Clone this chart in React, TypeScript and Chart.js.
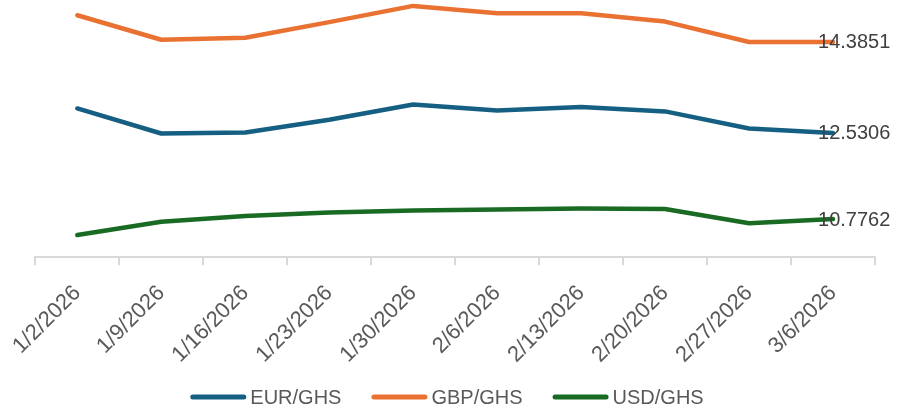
import React, { useEffect, useRef } from "react";
import { Chart, registerables } from "chart.js";

Chart.register(...registerables);

const categories = [
  "1/2/2026", "1/9/2026", "1/16/2026", "1/23/2026", "1/30/2026",
  "2/6/2026", "2/13/2026", "2/20/2026", "2/27/2026", "3/6/2026",
];
const eurGhs = [13.03, 12.52, 12.54, 12.80, 13.11, 12.99, 13.06, 12.97, 12.62, 12.5306];
const gbpGhs = [14.93, 14.43, 14.47, 14.79, 15.12, 14.97, 14.97, 14.80, 14.385, 14.3851];
const usdGhs = [10.45, 10.72, 10.84, 10.91, 10.95, 10.97, 10.99, 10.98, 10.69, 10.7762];
const seriesNames = ["EUR/GHS", "GBP/GHS", "USD/GHS"];
const seriesColors = ["#156082", "#E97132", "#196B24"];

const FONT = "'Liberation Sans', Arial, sans-serif";

const endLabels = {
  id: "endLabels",
  afterDatasetsDraw(chart: any) {
    const ctx = chart.ctx;
    ctx.save();
    ctx.font = `20px ${FONT}`;
    ctx.fillStyle = "#404040";
    ctx.textAlign = "left";
    ctx.textBaseline = "middle";
    chart.data.datasets.forEach((ds: any, i: number) => {
      const meta = chart.getDatasetMeta(i);
      const last = meta.data[meta.data.length - 1];
      if (!last) return;
      const v = ds.data[ds.data.length - 1];
      ctx.fillText(v.toFixed(4), last.x - 15, last.y + 1);
    });
    ctx.restore();
  },
};

const bottomLegend = {
  id: "bottomLegend",
  afterDraw(chart: any) {
    const ctx = chart.ctx;
    const swatch = 56;
    const gapText = 4;
    const gapItem = 30;
    const cy = 397;
    ctx.save();
    ctx.font = `20px ${FONT}`;
    const widths = chart.data.datasets.map((ds: any) => ctx.measureText(ds.label).width);
    const total = widths.reduce((a: number, w: number) => a + swatch + gapText + w, 0) + gapItem * (widths.length - 1);
    let x = (chart.width - total) / 2 - 3;
    chart.data.datasets.forEach((ds: any, i: number) => {
      ctx.strokeStyle = ds.borderColor;
      ctx.lineWidth = 5;
      ctx.lineCap = "round";
      ctx.beginPath();
      ctx.moveTo(x + 2.5, cy);
      ctx.lineTo(x + swatch - 2.5, cy);
      ctx.stroke();
      ctx.fillStyle = "#595959";
      ctx.textAlign = "left";
      ctx.textBaseline = "middle";
      ctx.fillText(ds.label, x + swatch + gapText, cy + 1);
      x += swatch + gapText + widths[i] + gapItem;
    });
    ctx.restore();
  },
};

export default function App() {
  const ref = useRef<HTMLCanvasElement>(null);
  useEffect(() => {
    if (!ref.current) return;
    const data = [eurGhs, gbpGhs, usdGhs];
    const chart = new Chart(ref.current, {
      type: "line",
      data: {
        labels: categories,
        datasets: data.map((d, i) => ({
          label: seriesNames[i],
          data: d,
          borderColor: seriesColors[i],
          backgroundColor: seriesColors[i],
          borderWidth: 4.5,
          borderCapStyle: "round" as const,
          borderJoinStyle: "round" as const,
          pointRadius: 0,
          tension: 0,
        })),
      },
      options: {
        responsive: false,
        animation: false,
        layout: { padding: { left: 35, right: 25, top: 1, bottom: 26 } },
        scales: {
          x: {
            offset: true,
            border: { display: true, color: "#d9d9d9", width: 2 },
            grid: {
              display: true,
              offset: true,
              drawOnChartArea: false,
              drawTicks: true,
              tickLength: 8,
              color: "#d9d9d9",
              lineWidth: 2,
            },
            ticks: {
              minRotation: 45,
              maxRotation: 45,
              autoSkip: false,
              color: "#595959",
              font: { family: FONT, size: 22 },
              padding: 15,
            },
          },
          y: {
            display: false,
            min: 10,
            max: 15.22,
          },
        },
        plugins: {
          tooltip: { enabled: false },
          legend: { display: false },
        },
      },
      plugins: [endLabels, bottomLegend],
    });
    return () => chart.destroy();
  }, []);
  return (
    <div style={{ position: "absolute", left: 0, top: 0, width: 900, height: 409, background: "#fff" }}>
      <canvas ref={ref} width={900} height={409} />
    </div>
  );
}
